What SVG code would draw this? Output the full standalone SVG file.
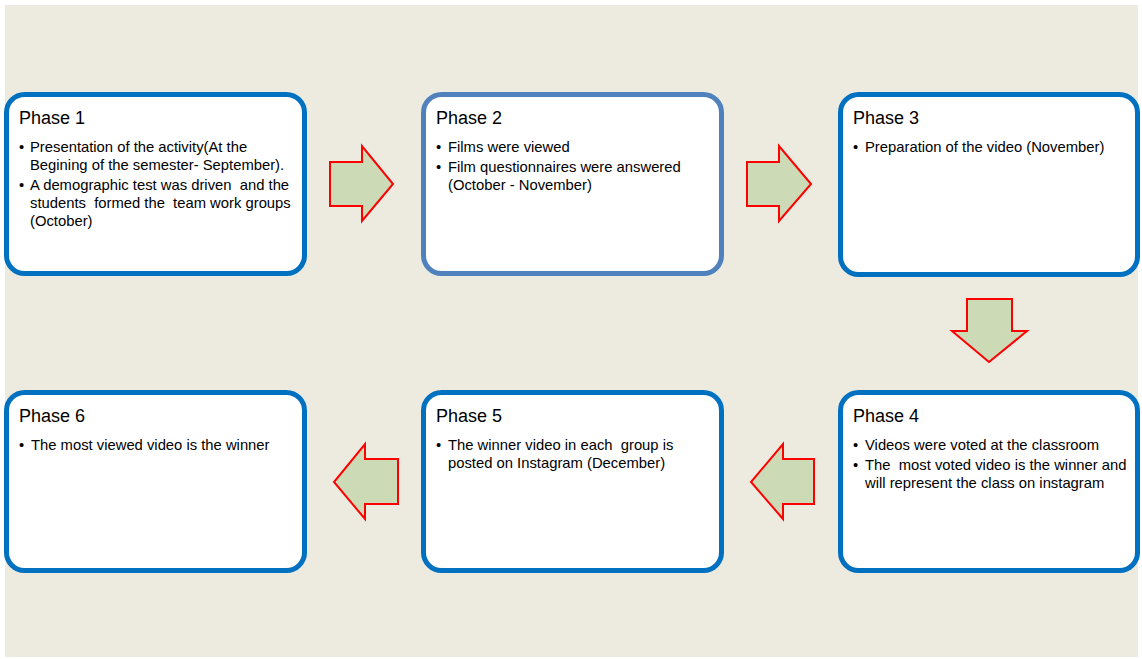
<svg xmlns="http://www.w3.org/2000/svg" width="1142" height="659" viewBox="0 0 1142 659">
<style>
.bg{fill:#EDEAE0}
.box{fill:#FFFFFF;stroke:#0070C0;stroke-width:5}
.box2{stroke:#4F81BD}
.title{font-family:"Liberation Sans",Arial,sans-serif;font-size:18px;fill:#000}
.txt{font-family:"Liberation Sans",Arial,sans-serif;font-size:14.8px;fill:#000;white-space:pre}
.arrow{fill:#CDDAB6;stroke:#FF0000;stroke-width:2;stroke-linejoin:miter}
</style>
<rect class="bg" x="5" y="5" width="1133" height="652"/>
<g id="connectors">
<polygon class="arrow" points="330,162 362,162 362,146 393,184 362,221 362,206 330,206"/>
<polygon class="arrow" points="747,162 779,162 779,146 811,184 779,221 779,206 747,206"/>
<polygon class="arrow" points="967,299 1012,299 1012,331 1027,331 989,362 952,331 967,331"/>
<polygon class="arrow" points="814,459 783,459 783,444 751,482 783,519 783,504 814,504"/>
<polygon class="arrow" points="398,459 365,459 365,444 334,482 365,519 365,504 398,504"/>
</g>
<g id="phase1">
<rect class="box" x="6.5" y="94.5" width="298" height="179" rx="18"/>
<text class="title" x="19" y="124">Phase 1</text>
<text class="txt" x="19" y="152">•</text>
<text class="txt" x="30" y="152">Presentation of the activity(At the</text>
<text class="txt" x="30" y="170">Begining of the semester- September).</text>
<text class="txt" x="19" y="190">•</text>
<text class="txt" x="30" y="190">A demographic test was driven  and the</text>
<text class="txt" x="30" y="208">students  formed the  team work groups</text>
<text class="txt" x="30" y="226">(October)</text>
</g>
<g id="phase2">
<rect class="box box2" x="423.5" y="94.5" width="298" height="179" rx="18"/>
<text class="title" x="436" y="124">Phase 2</text>
<text class="txt" x="436" y="152">•</text>
<text class="txt" x="448" y="152">Films were viewed</text>
<text class="txt" x="436" y="172">•</text>
<text class="txt" x="448" y="172">Film questionnaires were answered</text>
<text class="txt" x="448" y="190">(October - November)</text>
</g>
<g id="phase3">
<rect class="box" x="840.5" y="94.5" width="297" height="180" rx="18"/>
<text class="title" x="853" y="124">Phase 3</text>
<text class="txt" x="853" y="152">•</text>
<text class="txt" x="865" y="152">Preparation of the video (November)</text>
</g>
<g id="phase4">
<rect class="box" x="840.5" y="392.5" width="297" height="178" rx="18"/>
<text class="title" x="853" y="422">Phase 4</text>
<text class="txt" x="853" y="450">•</text>
<text class="txt" x="865" y="450">Videos were voted at the classroom</text>
<text class="txt" x="853" y="470">•</text>
<text class="txt" x="865" y="470">The  most voted video is the winner and</text>
<text class="txt" x="865" y="488">will represent the class on instagram</text>
</g>
<g id="phase5">
<rect class="box" x="423.5" y="392.5" width="298" height="178" rx="18"/>
<text class="title" x="436" y="422">Phase 5</text>
<text class="txt" x="436" y="450">•</text>
<text class="txt" x="448" y="450">The winner video in each  group is</text>
<text class="txt" x="448" y="468">posted on Instagram (December)</text>
</g>
<g id="phase6">
<rect class="box" x="6.5" y="392.5" width="298" height="178" rx="18"/>
<text class="title" x="19" y="422">Phase 6</text>
<text class="txt" x="19" y="450">•</text>
<text class="txt" x="31" y="450">The most viewed video is the winner</text>
</g>
</svg>
